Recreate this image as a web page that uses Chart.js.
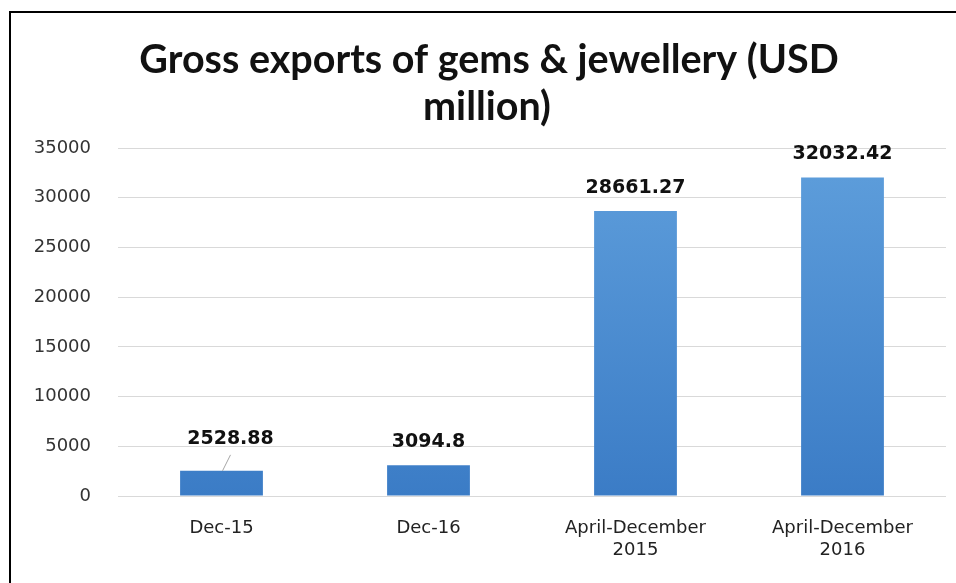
<!DOCTYPE html>
<html>
<head>
<meta charset="utf-8">
<script src="https://cdn.jsdelivr.net/npm/chart.js@4.4.1/dist/chart.umd.min.js"></script>
<style>
  html, body { margin: 0; padding: 0; background: #fff; }
  #wrap { width: 956px; height: 583px; position: relative; }
</style>
</head>
<body>
<div id="wrap"><canvas id="c" width="956" height="583"></canvas></div>
<script>
const categories = [["Dec-15"], ["Dec-16"], ["April-December", "2015"], ["April-December", "2016"]];
const exportValues = [2528.88, 3094.8, 28661.27, 32032.42];
const valueLabels = ["2528.88", "3094.8", "28661.27", "32032.42"];
const yTicks = [0, 5000, 10000, 15000, 20000, 25000, 30000, 35000];
const titleLines = ["Gross exports of gems & jewellery (USD", "million)"];

const framePlugin = {
  id: 'frame',
  afterDraw(chart) {
    const ctx = chart.ctx;
    ctx.save();
    ctx.strokeStyle = '#000';
    ctx.lineWidth = 2;
    ctx.strokeRect(10, 12, 1000, 1000);
    ctx.fillStyle = '#111';
    ctx.font = 'bold 39.5px Lato';
    ctx.textAlign = 'center';
    ctx.textBaseline = 'alphabetic';
    ctx.fillText(titleLines[0], 489, 73);
    ctx.fillText(titleLines[1], 487, 120);
    ctx.restore();
  }
};

const labelPlugin = {
  id: 'valueLabels',
  afterDatasetsDraw(chart) {
    const ctx = chart.ctx;
    const meta = chart.getDatasetMeta(0);
    ctx.save();
    ctx.font = 'bold 19px "DejaVu Sans"';
    ctx.fillStyle = '#111';
    ctx.textAlign = 'center';
    ctx.textBaseline = 'middle';
    meta.data.forEach((bar, i) => {
      let x = bar.x, y = bar.y - 23;
      if (i === 0) {
        x = bar.x + 9; y = bar.y - 32;
        ctx.strokeStyle = '#a6a6a6';
        ctx.lineWidth = 1;
        ctx.beginPath();
        ctx.moveTo(x, y + 16);
        ctx.lineTo(bar.x + 1, bar.y);
        ctx.stroke();
      }
      ctx.fillText(valueLabels[i], x, y);
    });
    ctx.restore();
  }
};

const ctx = document.getElementById('c').getContext('2d');
new Chart(ctx, {
  type: 'bar',
  data: {
    labels: categories,
    datasets: [{
      data: exportValues,
      backgroundColor: (c) => {
        const area = c.chart.chartArea;
        if (!area) return '#4a8bd0';
        const g = c.chart.ctx.createLinearGradient(0, area.top, 0, area.bottom);
        g.addColorStop(0, '#5f9fdc');
        g.addColorStop(1, '#3b7cc6');
        return g;
      },
      borderWidth: 0,
      categoryPercentage: 1.0,
      barPercentage: 0.4
    }]
  },
  options: {
    responsive: false,
    animation: false,
    layout: { padding: { left: 0, right: 10, top: 148, bottom: 0 } },
    plugins: {
      legend: { display: false },
      tooltip: { enabled: false },
      title: { display: false }
    },
    scales: {
      x: {
        grid: { display: false, drawTicks: false },
        border: { display: false },
        ticks: {
          color: '#222',
          font: { family: 'DejaVu Sans', size: 18 },
          padding: 22,
          maxRotation: 0,
          autoSkip: false
        },
        afterFit(s) { s.height = 87; }
      },
      y: {
        min: 0, max: 35000,
        afterBuildTicks(s) { s.ticks = yTicks.map(v => ({ value: v })); },
        grid: { color: '#d9d9d9', drawTicks: false, lineWidth: 1 },
        border: { display: false },
        ticks: {
          color: '#333',
          font: { family: 'DejaVu Sans', size: 18 },
          padding: 27,
          callback: (v) => String(v)
        },
        afterFit(s) { s.width = 118; }
      }
    }
  },
  plugins: [framePlugin, labelPlugin]
});
</script>
</body>
</html>
